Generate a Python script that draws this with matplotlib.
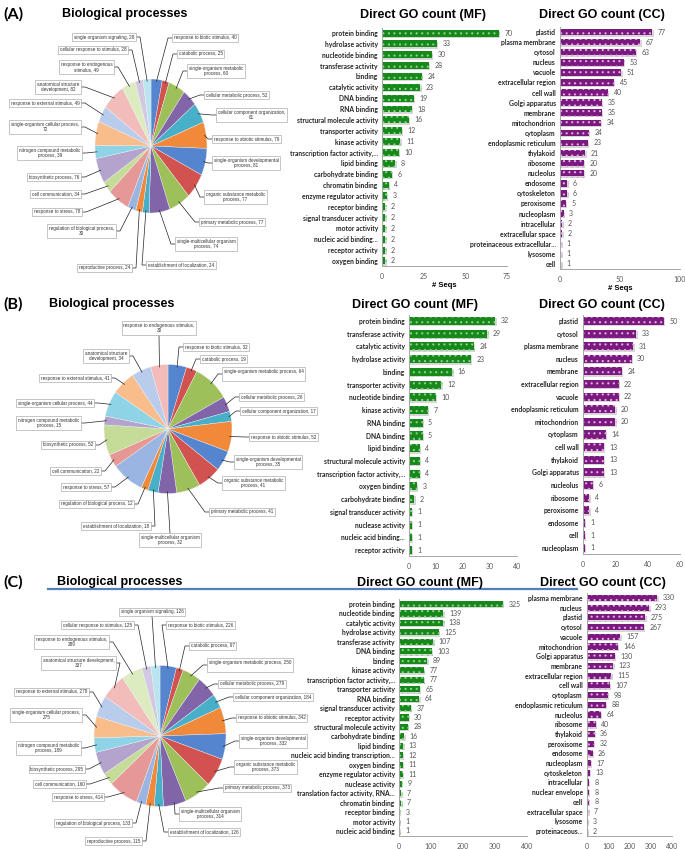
import matplotlib
matplotlib.use('Agg')
import matplotlib.pyplot as plt
import matplotlib.patheffects as pe
from matplotlib.lines import Line2D
import numpy as np

W, H = 685, 849

# ---------------- panel A ----------------
bp_a_names = ['response to biotic stimulus', 'catabolic process', 'single-organism metabolic process',
              'cellular metabolic process', 'cellular component organization', 'response to abiotic stimulus',
              'single-organism developmental process', 'organic substance metabolic process',
              'primary metabolic process', 'single-multicellular organism process',
              'establishment of localization', 'reproductive process', 'regulation of biological process',
              'response to stress', 'cell communication', 'biosynthetic process',
              'nitrogen compound metabolic process', 'single-organism cellular process',
              'response to external stimulus', 'anatomical structure development',
              'response to endogenous stimulus', 'cellular response to stimulus', 'single organism signaling']
bp_a_vals = [40, 25, 60, 52, 61, 79, 81, 77, 77, 74, 24, 24, 30, 78, 34, 76, 39, 72, 49, 82, 49, 28, 28]

mf_a_names = ['protein binding', 'hydrolase activity', 'nucleotide binding', 'transferase activity', 'binding',
              'catalytic activity', 'DNA binding', 'RNA binding', 'structural molecule activity',
              'transporter activity', 'kinase activity', 'transcription factor activity,...', 'lipid binding',
              'carbohydrate binding', 'chromatin binding', 'enzyme regulator activity', 'receptor binding',
              'signal transducer activity', 'motor activity', 'nucleic acid binding...', 'receptor activity',
              'oxygen binding']
mf_a_vals = [70, 33, 30, 28, 24, 23, 19, 18, 16, 12, 11, 10, 8, 6, 4, 3, 2, 2, 2, 2, 2, 2]

cc_a_names = ['plastid', 'plasma membrane', 'cytosol', 'nucleus', 'vacuole', 'extracellular region', 'cell wall',
              'Golgi apparatus', 'membrane', 'mitochondrion', 'cytoplasm', 'endoplasmic reticulum', 'thylakoid',
              'ribosome', 'nucleolus', 'endosome', 'cytoskeleton', 'peroxisome', 'nucleoplasm', 'intracellular',
              'extracellular space', 'proteinaceous extracellular...', 'lysosome', 'cell']
cc_a_vals = [77, 67, 63, 53, 51, 45, 40, 35, 35, 34, 24, 23, 21, 20, 20, 6, 6, 5, 3, 2, 2, 1, 1, 1]

# ---------------- panel B ----------------
bp_b_names = ['response to biotic stimulus', 'catabolic process', 'single-organism metabolic process',
              'cellular metabolic process', 'cellular component organization', 'response to abiotic stimulus',
              'single-organism developmental process', 'organic substance metabolic process',
              'primary metabolic process', 'single-multicellular organism process',
              'establishment of localization', 'regulation of biological process', 'response to stress',
              'cell communication', 'biosynthetic process', 'nitrogen compound metabolic process',
              'single-organism cellular process', 'response to external stimulus',
              'anatomical structure development', 'response to endogenous stimulus']
bp_b_vals = [32, 19, 64, 26, 17, 52, 35, 41, 41, 32, 18, 12, 57, 22, 52, 15, 44, 41, 34, 30]

mf_b_names = ['protein binding', 'transferase activity', 'catalytic activity', 'hydrolase activity', 'binding',
              'transporter activity', 'nucleotide binding', 'kinase activity', 'RNA binding', 'DNA binding',
              'lipid binding', 'structural molecule activity', 'transcription factor activity,...',
              'oxygen binding', 'carbohydrate binding', 'signal transducer activity', 'nuclease activity',
              'nucleic acid binding...', 'receptor activity']
mf_b_vals = [32, 29, 24, 23, 16, 12, 10, 7, 5, 5, 4, 4, 4, 3, 2, 1, 1, 1, 1]

cc_b_names = ['plastid', 'cytosol', 'plasma membrane', 'nucleus', 'membrane', 'extracellular region', 'vacuole',
              'endoplasmic reticulum', 'mitochondrion', 'cytoplasm', 'cell wall', 'thylakoid', 'Golgi apparatus',
              'nucleolus', 'ribosome', 'peroxisome', 'endosome', 'cell', 'nucleoplasm']
cc_b_vals = [50, 33, 31, 30, 24, 22, 22, 20, 20, 14, 13, 13, 13, 6, 4, 4, 1, 1, 1]

# ---------------- panel C ----------------
bp_c_names = bp_a_names
bp_c_vals = [226, 97, 250, 279, 184, 342, 332, 373, 373, 314, 126, 115, 133, 414, 160, 295, 189, 275, 278, 337,
             289, 125, 126]

mf_c_names = ['protein binding', 'nucleotide binding', 'catalytic activity', 'hydrolase activity',
              'transferase activity', 'DNA binding', 'binding', 'kinase activity',
              'transcription factor activity,...', 'transporter activity', 'RNA binding',
              'signal transducer activity', 'receptor activity', 'structural molecule activity',
              'carbohydrate binding', 'lipid binding', 'nucleic acid binding transcription...', 'oxygen binding',
              'enzyme regulator activity', 'nuclease activity', 'translation factor activity, RNA...',
              'chromatin binding', 'receptor binding', 'motor activity', 'nucleic acid binding']
mf_c_vals = [325, 139, 138, 125, 107, 103, 89, 77, 77, 65, 64, 37, 30, 28, 16, 13, 12, 11, 11, 9, 7, 7, 3, 1, 1]

cc_c_names = ['plasma membrane', 'nucleus', 'plastid', 'cytosol', 'vacuole', 'mitochondrion', 'Golgi apparatus',
              'membrane', 'extracellular region', 'cell wall', 'cytoplasm', 'endoplasmic reticulum', 'nucleolus',
              'ribosome', 'thylakoid', 'peroxisome', 'endosome', 'nucleoplasm', 'cytoskeleton', 'intracellular',
              'nuclear envelope', 'cell', 'extracellular space', 'lysosome', 'proteinaceous...']
cc_c_vals = [330, 293, 275, 267, 157, 146, 130, 123, 115, 107, 98, 88, 64, 40, 36, 32, 26, 17, 13, 8, 8, 8, 7, 3, 2]

# pie colours (excel style: 12 base tones, then light tints)
pie_colors = ['#5585CF', '#D2524F', '#9DC05A', '#8265A8', '#48AFC8', '#F08A3A',
              '#5585CF', '#D2524F', '#9DC05A', '#8265A8', '#48AFC8', '#F08A3A',
              '#9BB5E3', '#E59896', '#C5DC98', '#B4A3CC', '#8FD3E6', '#F9BD8C',
              '#BACCEB', '#F2BCBB', '#DDEBC0', '#D3C8E2', '#B9E5F1']

# label layout for the pies: (x px, y px, side, words on first line)
lab_a = [(172, 38, 'R', 0), (177, 54, 'R', 0), (187, 71, 'R', 2), (204, 95, 'R', 0), (216, 115, 'R', 3),
         (212, 139, 'R', 0), (212, 163, 'R', 2), (204, 197, 'R', 3), (199, 222, 'R', 0), (175, 244, 'R', 2),
         (146, 265, 'R', 0), (132, 268, 'L', 0), (116, 231, 'L', 4), (82, 212, 'L', 0), (81, 194, 'L', 0),
         (81, 177, 'L', 0), (82, 153, 'L', 3), (81, 127, 'L', 3), (81, 103, 'L', 0), (81, 87, 'L', 2),
         (114, 67, 'L', 3), (128, 50, 'L', 0), (136, 37, 'L', 0)]
lab_b = [(183, 347, 'R', 0), (200, 359, 'R', 0), (222, 374, 'R', 4), (239, 397, 'R', 0), (240, 411, 'R', 0),
         (249, 437, 'R', 0), (234, 462, 'R', 2), (222, 483, 'R', 3), (209, 512, 'R', 0), (170, 533, 'B', 2),
         (151, 526, 'L', 0), (134, 504, 'L', 0), (111, 487, 'L', 0), (101, 471, 'L', 0), (95, 445, 'L', 0),
         (81, 423, 'L', 3), (94, 403, 'L', 0), (111, 378, 'L', 0), (129, 356, 'L', 2), (159, 335, 'T', 4)]
lab_c = [(166, 625, 'R', 0), (189, 646, 'R', 0), (207, 665, 'R', 4), (218, 684, 'R', 0), (233, 697, 'R', 0),
         (236, 718, 'R', 0), (239, 741, 'R', 2), (234, 767, 'R', 3), (223, 788, 'R', 0), (179, 814, 'R', 2),
         (168, 832, 'R', 0), (142, 841, 'L', 0), (132, 823, 'L', 0), (104, 797, 'L', 0), (86, 784, 'L', 0),
         (85, 769, 'L', 0), (81, 748, 'L', 3), (82, 715, 'L', 3), (89, 692, 'L', 0), (116, 663, 'L', 3),
         (109, 642, 'L', 4), (134, 625, 'L', 0), (152, 616, 'T', 0)]

plt.rcParams['hatch.linewidth'] = 0.8
fig = plt.figure(figsize=(6.85, 8.49), dpi=100)


def fx(x):
    return x / W


def fy(y):
    return 1 - y / H


def pie_panel(cx, cy, rx, ry, names, vals, labs):
    ax = fig.add_axes([fx(cx - rx), fy(cy + ry), 2 * rx / W, 2 * ry / H])
    wedges, _ = ax.pie(vals, colors=pie_colors[:len(vals)], startangle=90, counterclock=False,
                       wedgeprops=dict(edgecolor='#f4f4f4', linewidth=0.25))
    ax.set_aspect('auto')
    ax.set_xlim(-1, 1)
    ax.set_ylim(-1, 1)
    inv = fig.transFigure.inverted()
    pad = 1.6
    for w, name, v, (lx, ly, side, nf) in zip(wedges, names, vals, labs):
        words = (name + ', ' + str(v)).split(' ')
        if nf:
            txt = ' '.join(words[:nf]) + '\n' + ' '.join(words[nf:])
        else:
            txt = ' '.join(words)
        th = np.deg2rad((w.theta1 + w.theta2) / 2)
        px, py = inv.transform(ax.transData.transform((0.97 * np.cos(th), 0.97 * np.sin(th))))
        kw = dict(fontsize=3.3, family='Liberation Sans', color='#333333', multialignment='center',
                  bbox=dict(boxstyle='square,pad=0.4', fc='white', ec='#9a9a9a', lw=0.4))
        if side == 'R':
            fig.text(fx(lx + pad), fy(ly), txt, ha='left', va='center', **kw)
            xs, ys = [fx(lx), fx(lx - 4), px], [fy(ly), fy(ly), py]
        elif side == 'L':
            fig.text(fx(lx - pad), fy(ly), txt, ha='right', va='center', **kw)
            xs, ys = [fx(lx), fx(lx + 4), px], [fy(ly), fy(ly), py]
        elif side == 'T':
            fig.text(fx(lx), fy(ly - pad), txt, ha='center', va='bottom', **kw)
            xs, ys = [fx(lx), px], [fy(ly), py]
        else:
            fig.text(fx(lx), fy(ly + pad), txt, ha='center', va='top', **kw)
            xs, ys = [fx(lx), px], [fy(ly), py]
        fig.add_artist(Line2D(xs, ys, transform=fig.transFigure, color='#222222', lw=0.5))


def bar_panel(x0, x1, ytop, ybot, names, vals, xmax, step, color, dot, seqs=False):
    ax = fig.add_axes([fx(x0), fy(ybot), (x1 - x0) / W, (ybot - ytop) / H])
    y = np.arange(len(vals))
    bars = ax.barh(y, vals, height=0.64, color=color, edgecolor=dot, linewidth=0, hatch='...',
                   path_effects=[pe.SimplePatchShadow(offset=(1.0, -1.0), shadow_rgbFace='#b0b0b0', alpha=0.5),
                                 pe.Normal()])
    ax.set_ylim(len(vals) - 0.5, -0.5)
    ax.set_xlim(0, xmax)
    ax.set_xticks(np.arange(0, xmax + 1, step))
    ax.set_yticks(y, names)
    for lab in ax.get_yticklabels():
        lab.set_fontfamily('Lato')
        lab.set_fontweight('bold')
        lab.set_fontsize(4.9)
        lab.set_color('#262626')
    for lab in ax.get_xticklabels():
        lab.set_fontfamily('Lato')
        lab.set_fontsize(5)
        lab.set_color('#595959')
    ax.tick_params(axis='both', length=0)
    ax.tick_params(axis='y', pad=3)
    ax.tick_params(axis='x', pad=5)
    for s in ['top', 'right']:
        ax.spines[s].set_visible(False)
    for s in ['left', 'bottom']:
        ax.spines[s].set_color('#a6a6a6')
        ax.spines[s].set_linewidth(0.7)
    ax.bar_label(bars, padding=4, fontsize=5, family='Lato', color='#555555')
    if seqs:
        ax.set_xlabel('# Seqs', fontsize=5.5, fontweight='bold', family='Liberation Sans', labelpad=1.5)
    ax.patch.set_alpha(0)


def titles(y, tag, bp_x, mf_x, cc_x):
    fig.text(fx(3), fy(y), tag, fontsize=11.5, fontweight='bold', family='Lato', ha='left', va='center')
    kw = dict(fontsize=9, fontweight='bold', family='Liberation Sans', ha='center', va='center')
    fig.text(fx(bp_x), fy(y), 'Biological processes', **kw)
    fig.text(fx(mf_x), fy(y + 1), 'Direct GO count (MF)', **kw)
    fig.text(fx(cc_x), fy(y + 1), 'Direct GO count (CC)', **kw)


green, green_dot = '#17881A', '#86D486'
purple, purple_dot = '#7A1A7E', '#E6A6E6'

# panel A
titles(14, '(A)', 125, 423, 602)
pie_panel(151, 146, 56, 67, bp_a_names, bp_a_vals, lab_a)
bar_panel(382, 507, 27.6, 266.4, mf_a_names, mf_a_vals, 75, 25, green, green_dot, seqs=True)
bar_panel(560, 680, 27, 269, cc_a_names, cc_a_vals, 100, 50, purple, purple_dot, seqs=True)

# panel B
titles(304, '(B)', 112, 415, 602)
pie_panel(168, 429, 64, 64.5, bp_b_names, bp_b_vals, lab_b)
bar_panel(409, 517, 314.6, 556.4, mf_b_names, mf_b_vals, 40, 10, green, green_dot)
bar_panel(583, 680, 314.7, 554.3, cc_b_names, cc_b_vals, 60, 20, purple, purple_dot)

# panel C
titles(582, '(C)', 120, 420, 603)
fig.add_artist(Line2D([fx(48), fx(577)], [fy(589), fy(589)], transform=fig.transFigure,
                      color='#4F81BD', lw=1.6))
pie_panel(160, 736, 66, 70.5, bp_c_names, bp_c_vals, lab_c)
bar_panel(399, 527, 599.3, 835.7, mf_c_names, mf_c_vals, 400, 100, green, green_dot)
bar_panel(587, 672, 593.1, 835.9, cc_c_names, cc_c_vals, 400, 100, purple, purple_dot)

fig.savefig('out.png', dpi=100)
